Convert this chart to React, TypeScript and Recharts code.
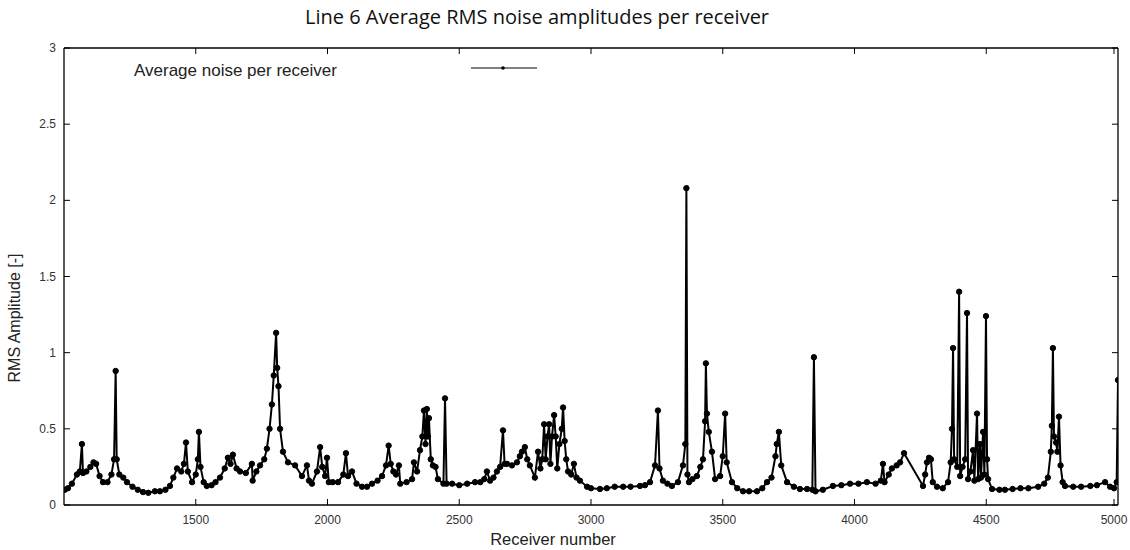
import React from "react";
import {
  LineChart, Line, XAxis, YAxis
} from "recharts";

// receiver numbers and average RMS amplitude
const receivers = [
  1003, 1015, 1030, 1049, 1060, 1068, 1072, 1085, 1100, 1112, 1122, 1135, 1148, 1165, 1180, 1190,
  1196, 1200, 1210, 1225, 1239, 1260, 1280, 1300, 1320, 1345, 1364, 1385, 1402, 1415, 1429, 1445,
  1455, 1463, 1470, 1486, 1500, 1508, 1512, 1518, 1530, 1542, 1560, 1575, 1592, 1610, 1622, 1632,
  1641, 1655, 1668, 1690, 1713, 1716, 1730, 1744, 1760, 1770, 1780, 1789, 1796, 1805, 1809, 1814,
  1820, 1831, 1850, 1877, 1903, 1922, 1930, 1941, 1960, 1972, 1980, 1991, 1998, 2005, 2020, 2040,
  2060, 2070, 2078, 2093, 2110, 2131, 2150, 2169, 2190, 2207, 2222, 2232, 2240, 2250, 2260, 2271,
  2276, 2300, 2321, 2328, 2340, 2351, 2360, 2366, 2372, 2377, 2381, 2385, 2392, 2400, 2410, 2419,
  2440, 2446, 2452, 2473, 2500, 2530, 2560, 2580, 2595, 2605, 2617, 2630, 2643, 2655, 2666, 2672,
  2681, 2700, 2719, 2730, 2738, 2749, 2758, 2768, 2787, 2799, 2808, 2815, 2822, 2828, 2835, 2841,
  2846, 2852, 2860, 2866, 2872, 2880, 2889, 2894, 2900, 2906, 2913, 2925, 2935, 2945, 2958, 2985,
  3000, 3034, 3060, 3090, 3122, 3150, 3186, 3205, 3224, 3243, 3254, 3260, 3273, 3290, 3307, 3330,
  3349, 3358, 3362, 3366, 3372, 3385, 3402, 3415, 3425, 3433, 3436, 3440, 3447, 3459, 3471, 3490,
  3500, 3509, 3515, 3535, 3555, 3577, 3600, 3630, 3650, 3668, 3685, 3700, 3705, 3713, 3722, 3744,
  3770, 3793, 3820, 3840, 3846, 3852, 3880, 3918, 3950, 3983, 4015, 4047, 4080, 4100, 4108, 4114,
  4130, 4142, 4160, 4173, 4188, 4260, 4268, 4275, 4283, 4290, 4297, 4313, 4335, 4355, 4365, 4370,
  4374, 4378, 4390, 4397, 4401, 4410, 4420, 4427, 4431, 4440, 4450, 4455, 4465, 4469, 4476, 4480,
  4488, 4493, 4499, 4503, 4507, 4522, 4550, 4571, 4600, 4630, 4660, 4697, 4720, 4734, 4745, 4749,
  4753, 4757, 4765, 4770, 4776, 4782, 4790, 4799, 4830, 4860, 4895, 4920, 4951, 4970, 4985, 4995,
  5000,
];

const amplitude = [
  0.10, 0.11, 0.14, 0.20, 0.22, 0.40, 0.21, 0.22, 0.25, 0.28, 0.27, 0.19, 0.15, 0.15, 0.20, 0.30,
  0.88, 0.30, 0.20, 0.18, 0.15, 0.12, 0.10, 0.085, 0.08, 0.09, 0.09, 0.10, 0.125, 0.18, 0.24, 0.22,
  0.27, 0.41, 0.22, 0.15, 0.20, 0.30, 0.48, 0.25, 0.15, 0.125, 0.13, 0.15, 0.18, 0.24, 0.31, 0.27,
  0.33, 0.24, 0.22, 0.21, 0.27, 0.16, 0.22, 0.26, 0.30, 0.37, 0.50, 0.66, 0.85, 1.13, 0.90, 0.78,
  0.50, 0.35, 0.28, 0.26, 0.19, 0.26, 0.16, 0.14, 0.22, 0.38, 0.25, 0.19, 0.31, 0.15, 0.15, 0.15,
  0.20, 0.34, 0.19, 0.22, 0.14, 0.12, 0.12, 0.14, 0.16, 0.19, 0.26, 0.39, 0.27, 0.22, 0.20, 0.26,
  0.14, 0.15, 0.17, 0.28, 0.22, 0.36, 0.45, 0.62, 0.40, 0.63, 0.45, 0.57, 0.30, 0.26, 0.25, 0.17,
  0.14, 0.70, 0.14, 0.14, 0.13, 0.14, 0.15, 0.15, 0.17, 0.22, 0.16, 0.18, 0.22, 0.25, 0.49, 0.27,
  0.27, 0.26, 0.28, 0.32, 0.35, 0.38, 0.30, 0.26, 0.18, 0.35, 0.24, 0.30, 0.53, 0.30, 0.45, 0.53,
  0.27, 0.45, 0.59, 0.45, 0.24, 0.40, 0.50, 0.64, 0.42, 0.30, 0.22, 0.20, 0.27, 0.18, 0.16, 0.12,
  0.11, 0.105, 0.11, 0.12, 0.12, 0.12, 0.125, 0.13, 0.15, 0.26, 0.62, 0.24, 0.16, 0.14, 0.125, 0.15,
  0.26, 0.40, 2.08, 0.20, 0.15, 0.17, 0.19, 0.25, 0.30, 0.55, 0.93, 0.60, 0.48, 0.35, 0.17, 0.19,
  0.32, 0.60, 0.28, 0.15, 0.11, 0.09, 0.09, 0.09, 0.11, 0.15, 0.18, 0.32, 0.40, 0.48, 0.26, 0.15,
  0.12, 0.105, 0.105, 0.10, 0.97, 0.09, 0.10, 0.125, 0.13, 0.14, 0.14, 0.15, 0.14, 0.16, 0.27, 0.15,
  0.20, 0.24, 0.26, 0.28, 0.34, 0.125, 0.20, 0.28, 0.31, 0.30, 0.15, 0.12, 0.11, 0.15, 0.28, 0.50,
  1.03, 0.30, 0.25, 1.40, 0.19, 0.25, 0.30, 1.26, 0.17, 0.22, 0.36, 0.16, 0.60, 0.17, 0.40, 0.18,
  0.48, 0.20, 1.24, 0.30, 0.17, 0.105, 0.10, 0.10, 0.105, 0.11, 0.11, 0.12, 0.14, 0.18, 0.35, 0.52,
  1.03, 0.45, 0.41, 0.35, 0.58, 0.26, 0.15, 0.125, 0.12, 0.12, 0.125, 0.13, 0.15, 0.12, 0.11, 0.15,
  0.82,
];

const xTicks = [1500, 2000, 2500, 3000, 3500, 4000, 4500, 5000];
const yTicks = [0, 0.5, 1, 1.5, 2, 2.5, 3];

const data = receivers.map((r, i) => ({ receiver: r, noise: amplitude[i] }));

const FONT = "'Liberation Sans', Arial, sans-serif";
const TICK_LEN = 6;
const AXIS = { stroke: "#000", strokeWidth: 1.3 };

const BottomTick = (props: any) => {
  const { x, y, payload } = props;
  return (
    <g>
      <line x1={x} x2={x} y1={y} y2={y - TICK_LEN} stroke="#000" />
      <text x={x} y={y + 19} textAnchor="middle" fontSize={12} fill="#333"
        fontFamily={FONT}>{payload.value}</text>
    </g>
  );
};

const TopTick = (props: any) => {
  const { x, y } = props;
  return <line x1={x} x2={x} y1={y} y2={y + TICK_LEN} stroke="#000" />;
};

const LeftTick = (props: any) => {
  const { x, y, payload } = props;
  return (
    <g>
      <line x1={x} x2={x + TICK_LEN} y1={y} y2={y} stroke="#000" />
      <text x={x - 8} y={y + 4} textAnchor="end" fontSize={12} fill="#333"
        fontFamily={FONT}>{payload.value}</text>
    </g>
  );
};

const RightTick = (props: any) => {
  const { x, y } = props;
  return <line x1={x} x2={x - TICK_LEN} y1={y} y2={y} stroke="#000" />;
};

// legend drawn as a plain overlay so it doesn't eat into the plot area
const LegendBox = () => (
  <div style={{ position: "absolute", left: 134, top: 61, display: "flex",
    alignItems: "center", fontFamily: FONT, fontSize: 17,
    lineHeight: "20px", color: "#222" }}>
    <span>Average noise per receiver</span>
    <svg width={70} height={10} style={{ marginLeft: 132, marginTop: -6 }}>
      <line x1={2} x2={68} y1={5} y2={5} stroke="#000" strokeWidth={1} />
      <circle cx={34} cy={5} r={1.8} fill="#000" />
    </svg>
  </div>
);

export default function App() {
  return (
    <div style={{ position: "absolute", left: 0, top: 0, width: 1130,
      height: 550, background: "#fff" }}>
      <div style={{ position: "absolute", left: 0, top: 3, width: 1074,
        textAlign: "center", fontFamily: "'Open Sans', sans-serif",
        fontSize: 20, color: "#111" }}>
        Line 6 Average RMS noise amplitudes per receiver
      </div>
      <LineChart width={1130} height={550} data={data}
        margin={{ top: 47, right: 11, bottom: 5, left: 20 }}
        style={{ fontFamily: FONT }}>
        <XAxis dataKey="receiver" type="number" domain={[1000, 5000]}
          ticks={xTicks} allowDataOverflow height={40}
          tickSize={0} tickMargin={0} tick={BottomTick}
          axisLine={AXIS} tickLine={false}
          label={() => (
            <text x={553} y={545} textAnchor="middle" fontSize={16.5}
              fill="#222" fontFamily={FONT}>Receiver number</text>
          )} />
        <XAxis xAxisId="top" orientation="top" dataKey="receiver" type="number"
          domain={[1000, 5000]} ticks={xTicks} allowDataOverflow height={1}
          tickSize={0} tickMargin={0} tick={TopTick}
          axisLine={AXIS} tickLine={false} />
        <YAxis type="number" domain={[0, 3]} ticks={yTicks} width={44}
          allowDataOverflow tickSize={0} tickMargin={0} tick={LeftTick}
          axisLine={AXIS} tickLine={false}
          label={() => (
            <text x={20} y={318} transform="rotate(-90 20 318)"
              textAnchor="middle" fontSize={16} fill="#222"
              fontFamily={FONT}>RMS Amplitude [-]</text>
          )} />
        <YAxis yAxisId="right" orientation="right" type="number"
          domain={[0, 3]} ticks={yTicks} width={1} allowDataOverflow
          tickSize={0} tickMargin={0} tick={RightTick}
          axisLine={AXIS} tickLine={false} />
        <Line type="linear" dataKey="noise" stroke="#000" strokeWidth={2}
          dot={{ r: 2.7, fill: "#000", stroke: "#000", strokeWidth: 1 }}
          isAnimationActive={false} legendType="none" />
      </LineChart>
      <LegendBox />
    </div>
  );
}
